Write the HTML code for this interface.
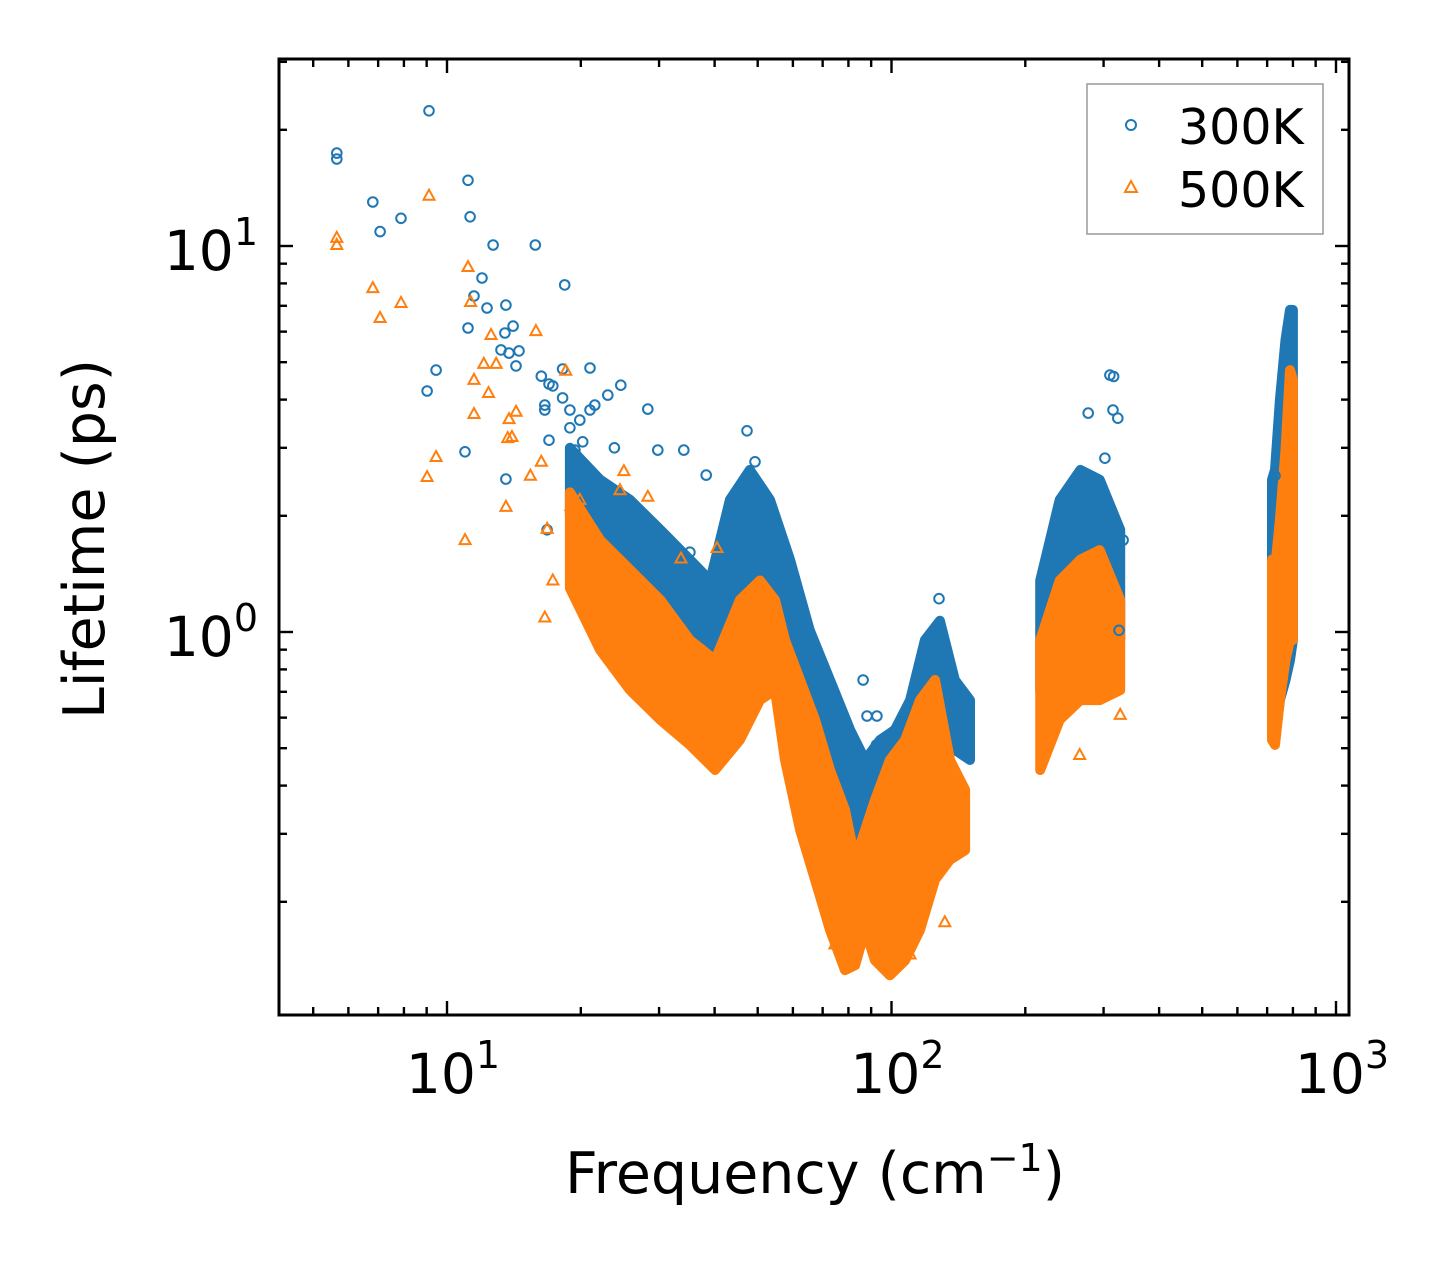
<!DOCTYPE html>
<html><head><meta charset="utf-8"><style>
html,body{margin:0;padding:0;background:#fff;}
svg{display:block;font-family:"DejaVu Sans","Liberation Sans",sans-serif;}
</style></head><body>
<svg id="chart" width="1444" height="1265" viewBox="0 0 1444 1265" xmlns="http://www.w3.org/2000/svg">
<rect width="1444" height="1265" fill="#fff"/>
<g id="bands"></g>
<g id="points"></g>
<g id="axes"></g>
<g id="legend">
<rect x="1087" y="84" width="236" height="150" fill="#fff" stroke="#999" stroke-width="1.5"/>
<circle cx="1131" cy="125" r="5" fill="none" stroke="#1f77b4" stroke-width="2"/>
<text x="1178" y="144" font-size="49">300K</text>
<polygon points="1131,181 1137,192 1125,192" fill="none" stroke="#ff7f0e" stroke-width="2"/>
<text x="1178" y="207" font-size="49">500K</text>
</g>
<text x="815" y="1193" font-size="57" text-anchor="middle">Frequency (cm<tspan dy="-22" font-size="38">−1</tspan><tspan dy="22">)</tspan></text>
<text transform="translate(104,539) rotate(-90)" font-size="57" text-anchor="middle">Lifetime (ps)</text>
</svg>
<script>
// ---- data ----
const blueBandFreq=[18.9,22.1,25.8,30.2,35.2,39.1,43.3,48.0,53.3,59.1,65.5,72.7,80.7,87.2,94.2,101.8,110.1,118.9,128.5,138.9,150.2];
const blueBandHi=[3.0,2.48,2.20,1.84,1.54,1.36,2.20,2.63,2.20,1.54,1.01,0.751,0.558,0.466,0.525,0.558,0.666,0.953,1.07,0.751,0.666];
const blueBandLo=[2.0,1.54,1.21,0.953,0.898,0.846,0.953,1.07,1.07,0.707,0.525,0.367,0.272,0.257,0.307,0.346,0.414,0.466,0.592,0.495,0.466];
const orangeBandFreq=[18.9,22.1,25.8,30.2,35.2,40.1,45.6,50.6,54.7,57.6,62.3,67.3,72.7,78.6,82.8,87.2,91.8,99.2,107.3,115.9,125.3,135.4,146.4];
const orangeBandHi=[2.3,1.73,1.45,1.21,0.953,0.846,1.21,1.36,1.21,0.953,0.751,0.592,0.439,0.346,0.257,0.307,0.367,0.466,0.525,0.666,0.751,0.466,0.390];
const orangeBandLo=[1.3,0.898,0.707,0.592,0.510,0.439,0.525,0.666,0.707,0.466,0.307,0.228,0.169,0.133,0.137,0.169,0.141,0.129,0.141,0.169,0.228,0.257,0.272];
const blueMidFreq=[216,239,266,294,327];
const blueMidHi=[1.36,2.20,2.63,2.48,1.84];
const blueMidLo=[0.707,0.953,1.07,1.01,0.953];
const orangeMidFreq=[216,239,266,294,327];
const orangeMidHi=[0.953,1.36,1.54,1.63,1.21];
const orangeMidLo=[0.439,0.592,0.666,0.666,0.707];
const blueHighFreq=[718,729,748,770,788,800];
const blueHighHi=[2.48,2.63,3.99,5.71,6.83,6.83];
const blueHighLo=[0.592,0.525,0.666,0.751,0.846,0.953];
const orangeHighFreq=[718,729,748,770,788,800];
const orangeHighHi=[1.54,1.45,1.95,2.96,4.77,4.50];
const orangeHighLo=[0.525,0.51,0.666,0.846,0.953,0.953];
const blueFreq=[5.65,5.65,6.81,7.07,7.88,9.11,9.02,9.45,11.15,11.27,10.98,11.15,11.5,11.99,12.3,12.7,13.23,13.5,13.57,13.79,14.08,14.52,14.3,13.57,15.8,18.4,16.3,16.6,16.6,16.8,16.96,16.96,17.3,18.2,18.9,18.2,18.9,19.4,19.9,20.2,20.98,20.98,21.5,23.0,24.6,23.8,24.5,28.3,29.8,34.1,35.2,38.3,47.3,49.3,50.6,86.3,88.1,92.7,92.5,127.9,277,310,316,315,323,302,332,325,729];
const blueLife=[17.4,16.8,13.0,10.9,11.8,22.4,4.21,4.77,14.8,11.9,2.93,6.13,7.42,8.26,6.91,10.06,5.38,5.95,7.03,5.28,6.20,5.35,4.89,2.49,10.06,7.93,4.60,3.87,3.76,1.84,4.39,3.14,4.34,4.04,3.76,4.80,3.38,2.96,3.54,3.11,4.83,3.76,3.87,4.11,4.36,3.0,2.20,3.78,2.96,2.96,1.61,2.55,3.32,2.76,2.33,0.751,0.606,0.606,0.510,1.22,3.69,4.63,4.59,3.76,3.58,2.82,1.73,1.01,2.54];
const orangeFreq=[5.65,5.65,6.81,7.07,7.88,9.02,9.45,9.11,10.98,11.15,11.3,11.5,11.5,12.1,12.4,12.56,12.9,13.57,13.7,13.79,14.0,14.3,15.4,15.85,16.3,16.6,16.8,17.3,18.5,19.4,19.9,19.0,21.9,22.1,24.5,25.0,28.3,33.6,40.5,265,327,287,74.6,74.6,131.8,110.1,94.2];
const orangeLife=[10.5,10.06,7.78,6.51,7.12,2.52,2.84,13.5,1.73,8.82,7.16,4.50,3.67,4.95,4.16,5.88,4.95,2.11,3.18,3.56,3.20,3.72,2.54,6.02,2.76,1.09,1.85,1.36,4.75,1.58,2.20,2.12,1.58,1.01,2.33,2.61,2.24,1.55,1.65,0.480,0.610,0.821,0.171,0.155,0.177,0.146,0.164];
const xTickVals=[10,100,1000];
const xTickExp=["1","2","3"];
const yTickVals=[1,10];
const yTickExp=["0","1"];

// ---- axes functions ----
const X0=447, XD=444.5, Y0=632, YD=386;
const L=279,R=1349,T=59,B=1015;
function sx(f){return X0+XD*(Math.log10(f)-1);}
function sy(v){return Y0-YD*Math.log10(v);}
const NS="http://www.w3.org/2000/svg";
function mk(tag,attrs,parent){const e=document.createElementNS(NS,tag);for(const k in attrs)e.setAttribute(k,attrs[k]);parent.appendChild(e);return e;}

// bands
const bands=document.getElementById('bands');
function band(fr,hi,lo,color,name){
  const pts=[];
  for(let i=0;i<fr.length;i++)pts.push(sx(fr[i]).toFixed(1)+','+sy(hi[i]).toFixed(1));
  for(let i=fr.length-1;i>=0;i--)pts.push(sx(fr[i]).toFixed(1)+','+sy(lo[i]).toFixed(1));
  const p=mk('polygon',{points:pts.join(' '),fill:color,stroke:color,'stroke-width':10,'stroke-linejoin':'round'},bands);
  
  
}
band(blueBandFreq,blueBandHi,blueBandLo,'#1f77b4','cloud-300k-low');
band(blueMidFreq,blueMidHi,blueMidLo,'#1f77b4','cloud-300k-mid');
band(blueHighFreq,blueHighHi,blueHighLo,'#1f77b4','cloud-300k-high');
band(orangeBandFreq,orangeBandHi,orangeBandLo,'#ff7f0e','cloud-500k-low');
band(orangeMidFreq,orangeMidHi,orangeMidLo,'#ff7f0e','cloud-500k-mid');
band(orangeHighFreq,orangeHighHi,orangeHighLo,'#ff7f0e','cloud-500k-high');

// scatter points
const pg=document.getElementById('points');
for(let i=0;i<blueFreq.length;i++){
  const c=mk('circle',{cx:sx(blueFreq[i]).toFixed(1),cy:sy(blueLife[i]).toFixed(1),r:4.8,fill:'none',stroke:'#1f77b4','stroke-width':2},pg);
  
  
}
for(let i=0;i<orangeFreq.length;i++){
  const x=sx(orangeFreq[i]),y=sy(orangeLife[i]);
  const t=mk('polygon',{points:`${x},${y-6} ${x+5.5},${y+4} ${x-5.5},${y+4}`,fill:'none',stroke:'#ff7f0e','stroke-width':2},pg);
  
  
}

// axes
const ax=document.getElementById('axes');
const frame=mk('rect',{x:L,y:T,width:R-L,height:B-T,fill:'none',stroke:'#000','stroke-width':3},ax);


function tick(x1,y1,x2,y2){mk('line',{x1,y1,x2,y2,stroke:'#000','stroke-width':2.4},ax);}
for(let d=0;d<4;d++){
  for(let m=1;m<10;m++){
    const f=m*Math.pow(10,d);
    const x=sx(f); if(x<L+1||x>R-1)continue;
    const len=m===1?14:8;
    tick(x,B,x,B-len); tick(x,T,x,T+len);
  }
}
for(let d=-1;d<2;d++){
  for(let m=1;m<10;m++){
    const v=m*Math.pow(10,d);
    const y=sy(v); if(y<T+1||y>B-1)continue;
    const len=m===1?14:8;
    tick(L,y,L+len,y); tick(R,y,R-len,y);
  }
}
for(let i=0;i<xTickVals.length;i++){
  const t=mk('text',{x:sx(xTickVals[i])+6,y:1093,'font-size':55,'text-anchor':'middle'},ax);
  
  
  t.innerHTML='10<tspan dy="-25" font-size="38">'+xTickExp[i]+'</tspan>';
}
for(let i=0;i<yTickVals.length;i++){
  const t=mk('text',{x:258,y:sy(yTickVals[i])+24,'font-size':55,'text-anchor':'end'},ax);
  
  
  t.innerHTML='10<tspan dy="-25" font-size="38">'+yTickExp[i]+'</tspan>';
}
</script>
</body></html>
